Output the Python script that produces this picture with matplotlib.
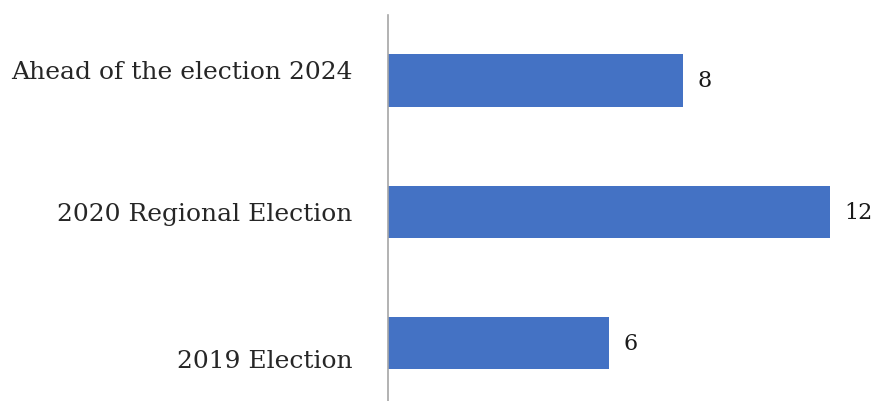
import matplotlib.pyplot as plt

categories = ["2019 Election", "2020 Regional Election", "Ahead of the election 2024"]
values = [6, 12, 8]
# small vertical nudges for the category labels (the original places them off-centre)
label_nudge = [-0.13, -0.01, 0.07]

plt.rcParams['font.family'] = ['DejaVu Serif']

fig = plt.figure(figsize=(8.74, 4.02), dpi=100)
ax = fig.add_axes([388 / 874, 0, 478.7 / 874, 386.25 / 402])

ypos = list(range(len(categories)))
bars = ax.barh(ypos, values, height=0.4, color="#4472C4")

ax.set_xlim(0, 13)
ax.set_ylim(-0.44, 2.5)

for sp in ["top", "right", "bottom"]:
    ax.spines[sp].set_visible(False)
ax.spines["left"].set_color("#A6A6A6")
ax.spines["left"].set_linewidth(1.2)
ax.set_xticks([])
ax.set_yticks([])

for y, v in zip(ypos, values):
    ax.text(v + 0.4, y, str(v), va="center", ha="left", fontsize=16, color="#1a1a1a")

for y, name, dy in zip(ypos, categories, label_nudge):
    ax.text(-0.97, y + dy, name, va="center", ha="right", fontsize=18, color="#262626")

fig.savefig("out.png", dpi=100)
